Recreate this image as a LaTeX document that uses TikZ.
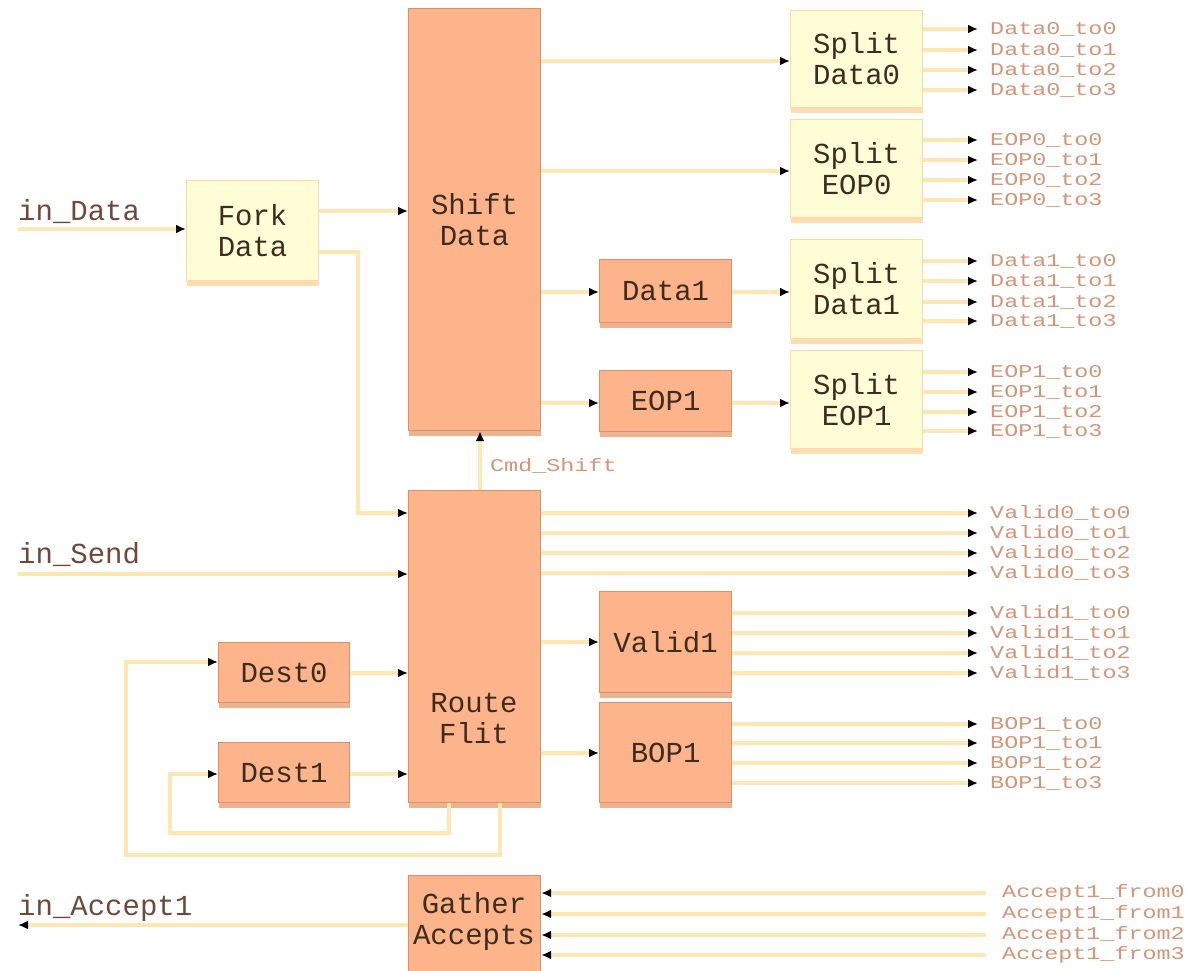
\documentclass[tikz,border=0pt]{standalone}
\usepackage{fontspec}
\newfontfamily\mono{Liberation Mono}
\newfontfamily\monowide[FakeStretch=1.3]{Liberation Mono}
\usetikzlibrary{arrows.meta}
\definecolor{salmon}{HTML}{FDB48A}
\definecolor{salmonb}{HTML}{D9906C}
\definecolor{salmonsh}{HTML}{EBB48E}
\definecolor{paleyel}{HTML}{FFFDD5}
\definecolor{paleyelb}{HTML}{FFD7A8}
\definecolor{paleyelsh}{HTML}{FFDDB0}
\definecolor{wirec}{HTML}{FFE6B3}
\definecolor{boxtxt}{HTML}{3E2C20}
\definecolor{intxt}{HTML}{6E4838}
\definecolor{outtxt}{HTML}{D29578}
\tikzset{
 blk/.style={rectangle, draw=salmonb, fill=salmon, line width=1.2pt, inner sep=0pt, anchor=north west, align=center, text=boxtxt, font=\mono\fontsize{29}{31}\selectfont,
   preaction={fill=salmonsh, draw=none, transform canvas={yshift=-5pt}}},
 yblk/.style={rectangle, draw=paleyelb, fill=paleyel, line width=1.2pt, inner sep=0pt, anchor=north west, align=center, text=boxtxt, font=\mono\fontsize{29}{31}\selectfont,
   preaction={fill=paleyelsh, draw=none, transform canvas={yshift=-5pt}}},
 boxtext/.style={inner sep=0pt, align=center, text=boxtxt, font=\mono\fontsize{29}{31}\selectfont},
 wire/.style={draw=wirec, line width=4.5pt, -{Latex[black,length=10pt,width=9pt]}},
 outlbl/.style={anchor=west, inner sep=0pt, text=outtxt, font=\monowide\fontsize{18}{18}\selectfont},
 inlbl/.style={anchor=base west, inner sep=0pt, text=intxt, font=\mono\fontsize{29}{29}\selectfont},
}
\begin{document}
\begin{tikzpicture}[x=1pt,y=-1pt]
\useasboundingbox (0,0) rectangle (1202,970);
\clip (0,0) rectangle (1202,970);
% blocks
\node[blk, minimum width=132pt, minimum height=422pt] (shift) at (408,8) {Shift\\Data};
\node[yblk, minimum width=132pt, minimum height=100pt] (fork) at (186,180) {Fork\\Data};
\node[yblk, minimum width=132pt, minimum height=97pt] (sd0) at (790,10) {Split\\Data0};
\node[yblk, minimum width=132pt, minimum height=98pt] (se0) at (790,119) {Split\\EOP0};
\node[blk, minimum width=132pt, minimum height=63pt] (data1) at (599,259) {Data1};
\node[yblk, minimum width=132pt, minimum height=99pt] (sd1) at (790,239) {Split\\Data1};
\node[blk, minimum width=132pt, minimum height=61pt] (eop1) at (599,370) {EOP1};
\node[yblk, minimum width=132pt, minimum height=98pt] (se1) at (790,350) {Split\\EOP1};
\node[blk, minimum width=132pt, minimum height=312pt] (route) at (408,490) {};
\node[boxtext] (routetxt) at (474,718) {Route\\Flit};
\node[blk, minimum width=132pt, minimum height=101pt] (valid1) at (599,591) {Valid1};
\node[blk, minimum width=132pt, minimum height=100pt] (bop1) at (599,702) {BOP1};
\node[blk, minimum width=131pt, minimum height=60pt] (dest0) at (218,642) {Dest0};
\node[blk, minimum width=131pt, minimum height=60pt] (dest1) at (218,742) {Dest1};
\node[blk, minimum width=132pt, minimum height=100pt] (gather) at (408,875) {};
\node[boxtext] (gathertxt) at (474,921) {Gather\\Accepts};
% inputs
\node[inlbl] (lblData) at (18,220) {in\_Data};
\coordinate (inData) at (18,229);
\draw[wire] (inData) -- (fork.west |- inData);
\node[inlbl] (lblSend) at (18,563) {in\_Send};
\coordinate (inSend) at (18,574);
\draw[wire] (inSend) -- (route.west |- inSend);
\node[inlbl] (lblAcc) at (18,915) {in\_Accept1};
\coordinate (inAcc) at (18,925);
\draw[wire] (gather.west |- inAcc) -- (inAcc);
% internal
\draw[wire] (fork.east |- 0,211) -- (shift.west |- 0,211);
\draw[wire] (fork.east |- 0,252) -- (358,252) -- (358,513) -- (route.west |- 0,513);
\draw[wire] (shift.east |- 0,61) -- (sd0.west |- 0,61);
\draw[wire] (shift.east |- 0,171) -- (se0.west |- 0,171);
\draw[wire] (shift.east |- 0,292) -- (data1.west |- 0,292);
\draw[wire] (data1.east |- 0,292) -- (sd1.west |- 0,292);
\draw[wire] (shift.east |- 0,403) -- (eop1.west |- 0,403);
\draw[wire] (eop1.east |- 0,403) -- (se1.west |- 0,403);
\draw[wire] (route.north -| 480,0) -- (shift.south -| 480,0);
\node[outlbl, anchor=base west] (cmd) at (490,471) {Cmd\_Shift};
\draw[wire] (route.east |- 0,642) -- (valid1.west |- 0,642);
\draw[wire] (route.east |- 0,753) -- (bop1.west |- 0,753);
\draw[wire] (dest0.east |- 0,673) -- (route.west |- 0,673);
\draw[wire] (dest1.east |- 0,774) -- (route.west |- 0,774);
\draw[wire] (route.south -| 449,0) -- (449,833) -- (170,833) -- (170,774) -- (dest1.west |- 0,774);
\draw[wire] (route.south -| 500,0) -- (500,855) -- (126,855) -- (126,662) -- (dest0.west |- 0,662);
% outputs
\foreach \y [count=\i from 0] in {29,50,70,90} {
  \node[outlbl] (d0o\i) at (990,\y) {Data0\_to\i};
  \draw[wire,shorten >=12pt] (sd0.east |- d0o\i.west) -- (d0o\i.west);}
\foreach \y [count=\i from 0] in {140,160,180,200} {
  \node[outlbl] (e0o\i) at (990,\y) {EOP0\_to\i};
  \draw[wire,shorten >=12pt] (se0.east |- e0o\i.west) -- (e0o\i.west);}
\foreach \y [count=\i from 0] in {261,281,302,321} {
  \node[outlbl] (d1o\i) at (990,\y) {Data1\_to\i};
  \draw[wire,shorten >=12pt] (sd1.east |- d1o\i.west) -- (d1o\i.west);}
\foreach \y [count=\i from 0] in {372,392,412,431} {
  \node[outlbl] (e1o\i) at (990,\y) {EOP1\_to\i};
  \draw[wire,shorten >=12pt] (se1.east |- e1o\i.west) -- (e1o\i.west);}
\foreach \y [count=\i from 0] in {513,533,553,573} {
  \node[outlbl] (v0o\i) at (990,\y) {Valid0\_to\i};
  \draw[wire,shorten >=12pt] (route.east |- v0o\i.west) -- (v0o\i.west);}
\foreach \y [count=\i from 0] in {613,633,653,673} {
  \node[outlbl] (v1o\i) at (990,\y) {Valid1\_to\i};
  \draw[wire,shorten >=12pt] (valid1.east |- v1o\i.west) -- (v1o\i.west);}
\foreach \y [count=\i from 0] in {724,743,763,783} {
  \node[outlbl] (b1o\i) at (990,\y) {BOP1\_to\i};
  \draw[wire,shorten >=12pt] (bop1.east |- b1o\i.west) -- (b1o\i.west);}
\foreach \y [count=\i from 0] in {893,914,935,955} {
  \node[outlbl] (a\i) at (1002,\y) {Accept1\_from\i};
  \draw[wire,shorten <=16pt] (a\i.west) -- (gather.east |- a\i.west);}
\end{tikzpicture}
\end{document}
